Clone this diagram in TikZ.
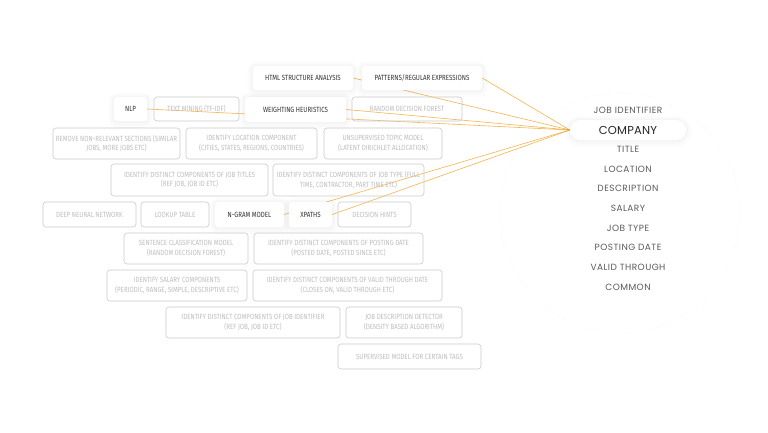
\documentclass[tikz,border=0pt]{standalone}
\usepackage{fontspec}
\setmainfont{Fira Sans}
\newfontfamily\boxfont[FakeStretch=0.82]{Fira Sans}
\newfontfamily\listfont[LetterSpace=5]{Poppins}
\newfontfamily\pillfont[LetterSpace=2]{Poppins}
\usetikzlibrary{shadows}
\pgfdeclarelayer{canvas}
\pgfdeclarelayer{background}
\pgfsetlayers{canvas,background,main}
\definecolor{boxline}{HTML}{CACACA}
\definecolor{graytext}{HTML}{BEBEBE}
\definecolor{darktext}{HTML}{333333}
\definecolor{listtext}{HTML}{5A5A5A}
\definecolor{link}{HTML}{F2AE3A}
\tikzset{
  basebox/.style={rounded corners=3pt, inner sep=0pt, align=center,
    font=\boxfont\fontsize{7.5}{9.3}\selectfont},
  softshadow/.style={
    preaction={draw=black, opacity=0.010, line width=11pt, transform canvas={yshift=-1.5pt}},
    preaction={draw=black, opacity=0.012, line width=7pt, transform canvas={yshift=-1pt}},
    preaction={draw=black, opacity=0.015, line width=3.5pt, transform canvas={yshift=-0.5pt}}},
  graybox/.style={basebox, draw=boxline, line width=0.6pt, text=graytext},
  whitebox/.style={basebox, fill=white, text=darktext, softshadow},
  listitem/.style={font=\listfont\fontsize{9}{10}\selectfont, text=listtext, inner sep=0pt},
  pill/.style={rounded corners=10pt, fill=white, softshadow, inner sep=0pt,
    font=\pillfont\fontsize{11.5}{13}\selectfont, text=black!85},
  linkline/.style={draw=link, line width=0.6pt, opacity=0.9},
}
\begin{document}
\begin{tikzpicture}[x=1pt,y=-1pt]
\begin{pgfonlayer}{canvas}
\fill[white] (0,0) rectangle (768,432);
\end{pgfonlayer}
\useasboundingbox (0,0) rectangle (768,432);

% white (highlighted) boxes
\node[whitebox, minimum width=100, minimum height=24] (html) at (303,78) {HTML STRUCTURE ANALYSIS};
\node[whitebox, minimum width=120, minimum height=24] (patterns) at (422,78) {PATTERNS/REGULAR EXPRESSIONS};
\node[whitebox, minimum width=33, minimum height=24] (nlp) at (130.5,109) {NLP};
\node[whitebox, minimum width=101, minimum height=25] (weighting) at (295.5,109.5) {WEIGHTING HEURISTICS};
\node[whitebox, minimum width=69, minimum height=25] (ngram) at (249.5,214.5) {N-GRAM MODEL};
\node[whitebox, minimum width=43, minimum height=25] (xpaths) at (310.5,214.5) {XPATHS};

% gray boxes
\node[graybox, minimum width=85, minimum height=24] (textmining) at (196.5,109) {TEXT MINING (TF-IDF)};
\node[graybox, minimum width=110, minimum height=24] (rdf) at (407,109) {RANDOM DECISION FOREST};
\node[graybox, minimum width=127, minimum height=31] (remove) at (116.5,143.5) {REMOVE NON-RELEVANT SECTIONS (SIMILAR\\JOBS, MORE JOBS ETC)};
\node[graybox, minimum width=131, minimum height=31] (location) at (251.5,143.5) {IDENTIFY LOCATION COMPONENT\\(CITIES, STATES, REGIONS, COUNTRIES)};
\node[graybox, minimum width=118, minimum height=31] (topic) at (383,143.5) {UNSUPERVISED TOPIC MODEL\\(LATENT DIRICHLET ALLOCATION)};
\node[graybox, minimum width=157, minimum height=32] (jobtitles) at (189.5,180) {IDENTIFY DISTINCT COMPONENTS OF JOB TITLES\\(REF JOB, JOB ID ETC)};
\node[graybox, minimum width=151, minimum height=32] (jobtype) at (348.5,180) {IDENTIFY DISTINCT COMPONENTS OF JOB TYPE (FULL\\TIME, CONTRACTOR, PART TIME ETC)};
\node[graybox, minimum width=93, minimum height=25] (dnn) at (89.5,214.5) {DEEP NEURAL NETWORK};
\node[graybox, minimum width=68, minimum height=25] (lookup) at (175,214.5) {LOOKUP TABLE};
\node[graybox, minimum width=73, minimum height=25] (hints) at (374.5,214.5) {DECISION HINTS};
\node[graybox, minimum width=124, minimum height=31] (sentence) at (186,248.5) {SENTENCE CLASSIFICATION MODEL\\(RANDOM DECISION FOREST)};
\node[graybox, minimum width=169, minimum height=31] (posting) at (338.5,248.5) {IDENTIFY DISTINCT COMPONENTS OF POSTING DATE\\(POSTED DATE, POSTED SINCE ETC)};
\node[graybox, minimum width=140, minimum height=31] (salary) at (177,285.5) {IDENTIFY SALARY COMPONENTS\\(PERIODIC, RANGE, SIMPLE, DESCRIPTIVE ETC)};
\node[graybox, minimum width=189, minimum height=31] (valid) at (347.5,285.5) {IDENTIFY DISTINCT COMPONENTS OF VALID THROUGH DATE\\(CLOSES ON, VALID THROUGH ETC)};
\node[graybox, minimum width=174, minimum height=31] (jobid) at (253,322.5) {IDENTIFY DISTINCT COMPONENTS OF JOB IDENTIFIER\\(REF JOB, JOB ID ETC)};
\node[graybox, minimum width=116, minimum height=31] (jobdesc) at (404,322.5) {JOB DESCRIPTION DETECTOR\\(DENSITY BASED ALGORITHM)};
\node[graybox, minimum width=143, minimum height=25] (supervised) at (409.5,356.5) {SUPERVISED MODEL FOR CERTAIN TAGS};

% right list
\node[pill, minimum width=116, minimum height=20] (company) at (628,130) {COMPANY};
\node[listitem] (jobidentifier) at (628,110) {JOB IDENTIFIER};
\node[listitem] (title) at (628,149.5) {TITLE};
\node[listitem] (loc) at (628,169) {LOCATION};
\node[listitem] (desc) at (628,188.5) {DESCRIPTION};
\node[listitem] (sal) at (628,208.5) {SALARY};
\node[listitem] (jtype) at (628,228) {JOB TYPE};
\node[listitem] (pdate) at (628,247.5) {POSTING DATE};
\node[listitem] (vthrough) at (628,267) {VALID THROUGH};
\node[listitem] (common) at (628,287) {COMMON};

\begin{pgfonlayer}{background}
  \draw[black!4, dotted, line width=0.7pt] (620,213) circle (120pt);
  \draw[linkline] (html.east) -- (company.west);
  \draw[linkline] (patterns.east) -- (company.west);
  \draw[linkline] (nlp.east) -- (company.west);
  \draw[linkline] (weighting.east) -- (company.west);
  \draw[linkline] (ngram.east) -- (company.west);
  \draw[linkline] (xpaths.east) -- (company.west);
\end{pgfonlayer}
\end{tikzpicture}
\end{document}
